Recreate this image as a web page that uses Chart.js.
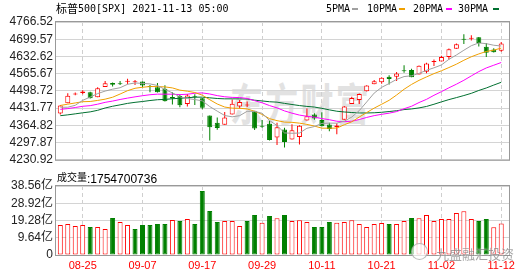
<!DOCTYPE html>
<html lang="zh-CN">
<head>
<meta charset="UTF-8">
<title>标普500[SPX]</title>
<script src="https://cdn.jsdelivr.net/npm/chart.js@4.4.0/dist/chart.umd.min.js"></script>
<style>
  body { margin: 0; background: #fff; }
  #wrap { position: relative; width: 530px; height: 276px; overflow: hidden; }
  #wrap canvas { position: absolute; left: 0; }
  #priceChart { top: 0; }
  #volChart { top: 170px; }
  .lbl { position: absolute; white-space: nowrap; line-height: 1; color: #000; }
  .mono { font-family: "DejaVu Sans Mono", monospace; font-size: 10px; }
  .cjk { font-family: "Noto Sans CJK SC", sans-serif; font-size: 11px; }
  .swatch { position: absolute; top: 8px; width: 6px; height: 2px; }
  #wm1 {
    position: absolute; left: 230px; top: 70px; line-height: 1;
    font: bold 44px "Noto Sans CJK SC", sans-serif; color: #e2e2e2;
    letter-spacing: 3px; transform: scaleX(0.75); transform-origin: 0 0;
  }
  #wm2 {
    position: absolute; left: 436px; top: 244px; line-height: 1;
    font: 13px "Noto Sans CJK SC", sans-serif; color: rgba(90, 90, 90, 0.55);
    text-shadow: 0 0 2px #fff;
  }
  #wm2logo {
    position: absolute; left: 411px; top: 243px; width: 15px; height: 15px;
    border: 1px solid rgba(120, 120, 120, 0.5); border-radius: 50%;
    background: rgba(255, 255, 255, 0.7);
  }
</style>
</head>
<body>
<div id="wrap">
  <div id="wm1">东方财富</div>
  <canvas id="priceChart" width="530" height="170"></canvas>
  <canvas id="volChart" width="530" height="106"></canvas>

  <!-- title + MA legend -->
  <div class="lbl cjk" style="left:56px;top:3px">标普</div>
  <div class="lbl mono" style="left:78px;top:4px">500[SPX] 2021-11-13 05:00</div>
  <div class="lbl mono" style="left:326px;top:4px">5PMA</div>
  <div class="swatch" style="left:352px;background:#a0a0a0"></div>
  <div class="lbl mono" style="left:367px;top:4px">10PMA</div>
  <div class="swatch" style="left:399px;background:#f0a000"></div>
  <div class="lbl mono" style="left:413px;top:4px">20PMA</div>
  <div class="swatch" style="left:446px;background:#ff00ff"></div>
  <div class="lbl mono" style="left:458px;top:4px">30PMA</div>
  <div class="swatch" style="left:493px;background:#007030"></div>

  <!-- volume title -->
  <div class="lbl cjk" style="left:57px;top:172px;font-size:10px">成交量</div>
  <div class="lbl" style="left:87px;top:171.5px;font:12px 'Liberation Sans', sans-serif">:1754700736</div>

  <div id="wm2logo"></div>
  <div id="wm2">九盛融汇投资</div>
</div>

<script>
  // S&P 500 daily candles, 2021-08-20 .. 2021-11-12
  const dates = ['08-20', '08-23', '08-24', '08-25', '08-26', '08-27', '08-30', '08-31', '09-01', '09-02',
    '09-03', '09-07', '09-08', '09-09', '09-10', '09-13', '09-14', '09-15', '09-16', '09-17',
    '09-20', '09-21', '09-22', '09-23', '09-24', '09-27', '09-28', '09-29', '09-30', '10-01',
    '10-04', '10-05', '10-06', '10-07', '10-08', '10-11', '10-12', '10-13', '10-14', '10-15',
    '10-18', '10-19', '10-20', '10-21', '10-22', '10-25', '10-26', '10-27', '10-28', '10-29',
    '11-01', '11-02', '11-03', '11-04', '11-05', '11-08', '11-09', '11-10', '11-11', '11-12'];

  const open = [4410.56, 4450.29, 4484.40, 4490.45, 4493.75, 4474.10, 4513.76, 4529.75, 4528.80, 4534.48,
    4532.42, 4535.38, 4518.09, 4513.02, 4506.92, 4474.81, 4479.33, 4447.49, 4477.09, 4469.74,
    4402.95, 4374.45, 4367.43, 4406.75, 4438.04, 4442.12, 4419.54, 4362.41, 4370.67, 4317.16,
    4348.84, 4309.87, 4319.57, 4383.73, 4406.51, 4385.44, 4368.31, 4358.01, 4386.75, 4447.69,
    4463.72, 4497.34, 4524.42, 4532.24, 4553.69, 4553.69, 4578.69, 4580.22, 4562.84, 4572.87,
    4610.62, 4613.34, 4630.65, 4662.93, 4699.26, 4701.48, 4707.25, 4670.26, 4659.39, 4655.24];
  const high = [4444.35, 4489.88, 4492.81, 4501.71, 4495.90, 4513.33, 4537.36, 4531.39, 4537.11, 4545.85,
    4541.45, 4535.38, 4521.79, 4529.90, 4520.47, 4492.99, 4485.68, 4486.87, 4485.87, 4471.52,
    4402.95, 4394.87, 4416.75, 4465.40, 4463.12, 4457.30, 4419.54, 4385.57, 4382.55, 4375.19,
    4355.51, 4369.23, 4365.57, 4429.97, 4412.02, 4415.88, 4374.89, 4372.87, 4439.73, 4475.82,
    4488.75, 4520.40, 4540.87, 4551.44, 4559.67, 4572.62, 4598.53, 4584.57, 4597.55, 4608.08,
    4620.34, 4635.15, 4663.46, 4683.00, 4718.50, 4714.92, 4708.53, 4684.85, 4664.55, 4688.47];
  const low = [4406.80, 4450.29, 4482.28, 4485.66, 4468.99, 4474.10, 4513.76, 4515.80, 4522.02, 4524.66,
    4521.65, 4513.00, 4493.95, 4492.07, 4457.66, 4445.70, 4435.46, 4438.37, 4443.80, 4427.76,
    4305.91, 4347.96, 4367.43, 4406.75, 4430.27, 4436.19, 4346.33, 4355.08, 4306.24, 4288.52,
    4278.94, 4309.87, 4290.49, 4383.73, 4386.22, 4360.59, 4342.09, 4329.92, 4386.75, 4447.69,
    4447.47, 4496.41, 4524.40, 4526.89, 4524.00, 4537.36, 4569.17, 4551.66, 4562.84, 4567.59,
    4595.06, 4613.34, 4621.19, 4662.59, 4681.32, 4694.39, 4670.87, 4630.86, 4648.31, 4650.42];
  const close = [4441.67, 4479.53, 4486.23, 4496.19, 4470.00, 4509.37, 4528.79, 4522.68, 4524.09, 4536.95,
    4535.43, 4520.03, 4514.07, 4493.28, 4458.58, 4468.73, 4443.05, 4480.70, 4473.75, 4432.99,
    4357.73, 4354.19, 4395.64, 4448.98, 4455.48, 4443.11, 4352.63, 4359.46, 4307.54, 4357.04,
    4300.46, 4345.72, 4363.55, 4399.76, 4391.34, 4361.19, 4350.65, 4363.80, 4438.26, 4471.37,
    4486.46, 4519.63, 4536.19, 4549.78, 4544.90, 4566.48, 4574.79, 4551.68, 4596.42, 4605.38,
    4613.67, 4630.65, 4660.57, 4680.06, 4697.53, 4701.70, 4685.25, 4646.71, 4649.27, 4682.85];
  const closeBefore = 4405.80; // 08-19

  const ma5 = [4435.2, 4435.2, 4442.8, 4462.0, 4474.8, 4488.2, 4498.0, 4505.4, 4511.0, 4524.4,
    4529.6, 4527.8, 4526.0, 4519.8, 4504.2, 4491.0, 4475.6, 4469.0, 4465.2, 4460.0,
    4437.8, 4420.0, 4403.0, 4398.0, 4402.4, 4419.4, 4419.2, 4411.8, 4383.6, 4364.0,
    4335.4, 4334.0, 4335.0, 4353.4, 4360.2, 4372.4, 4373.4, 4373.4, 4381.0, 4397.0,
    4422.0, 4455.8, 4490.2, 4512.6, 4527.4, 4543.4, 4554.4, 4557.6, 4566.8, 4578.8,
    4588.4, 4599.6, 4621.4, 4638.2, 4656.8, 4674.4, 4685.2, 4682.4, 4676.2, 4673.2];
  const ma10 = [4442.2, 4447.0, 4451.9, 4456.7, 4457.6, 4461.7, 4466.6, 4474.1, 4486.5, 4499.6,
    4508.9, 4512.9, 4515.7, 4515.4, 4514.3, 4510.3, 4501.7, 4497.5, 4492.5, 4482.1,
    4464.4, 4447.8, 4436.0, 4431.6, 4431.2, 4428.6, 4419.6, 4407.4, 4390.8, 4383.2,
    4377.4, 4376.6, 4373.4, 4368.5, 4362.1, 4353.9, 4353.7, 4354.2, 4367.2, 4378.6,
    4397.2, 4414.6, 4431.8, 4446.8, 4462.2, 4482.7, 4505.1, 4523.9, 4539.7, 4553.1,
    4565.9, 4577.0, 4589.5, 4602.5, 4617.8, 4631.4, 4642.4, 4651.9, 4657.2, 4665.0];
  const ma20 = [4427.0, 4429.9, 4434.1, 4438.9, 4441.4, 4447.1, 4454.2, 4459.2, 4465.3, 4470.7,
    4475.6, 4480.0, 4483.8, 4486.1, 4486.0, 4486.0, 4484.2, 4485.8, 4489.5, 4490.9,
    4486.7, 4480.4, 4475.9, 4473.5, 4472.8, 4469.5, 4460.7, 4452.5, 4441.7, 4432.7,
    4420.9, 4412.2, 4404.7, 4400.1, 4396.7, 4391.3, 4386.7, 4380.8, 4379.0, 4380.9,
    4387.3, 4395.6, 4402.6, 4407.7, 4412.2, 4418.3, 4429.4, 4439.1, 4453.5, 4465.9,
    4481.6, 4495.8, 4510.7, 4524.7, 4540.0, 4557.1, 4573.8, 4587.9, 4598.5, 4609.1];
  const ma30 = [4402.4, 4405.6, 4409.5, 4413.6, 4417.2, 4423.3, 4432.3, 4439.0, 4444.5, 4450.2,
    4454.3, 4457.5, 4461.3, 4464.4, 4465.7, 4468.2, 4470.0, 4472.0, 4474.3, 4474.5,
    4471.8, 4469.2, 4467.9, 4467.9, 4467.7, 4466.9, 4462.6, 4459.7, 4456.6, 4455.0,
    4450.2, 4445.8, 4441.7, 4438.5, 4435.9, 4430.9, 4425.0, 4419.7, 4416.8, 4414.6,
    4413.0, 4413.0, 4413.7, 4415.6, 4418.5, 4421.7, 4426.1, 4428.5, 4432.6, 4438.3,
    4446.8, 4456.1, 4464.9, 4472.6, 4480.7, 4489.3, 4500.4, 4510.0, 4521.4, 4532.2];

  // volume in 亿 (1e8) shares
  const volume = [16.8, 17.3, 16.2, 16.8, 15.6, 15.6, 14.5, 20.7, 18.4, 16.8,
    14.5, 16.8, 16.8, 17.3, 17.3, 19.6, 19.0, 20.1, 17.3, 35.8,
    24.6, 18.4, 19.0, 19.0, 16.2, 19.0, 22.4, 18.0, 21.8, 20.5,
    22.4, 19.0, 19.4, 18.4, 15.6, 15.6, 18.4, 18.0, 18.4, 19.4,
    17.3, 15.6, 17.3, 17.9, 17.3, 17.3, 19.0, 20.7, 20.5, 22.4,
    19.0, 20.1, 20.1, 23.5, 24.4, 20.1, 19.0, 20.1, 15.5, 17.55];

  const priceTicks = [4230.92, 4297.87, 4364.82, 4431.77, 4498.72, 4565.67, 4632.62, 4699.57, 4766.52];
  const volTicks = [0, 9.64, 19.28, 28.92, 38.56];
  const volTickLabels = ['0', '9.64亿', '19.28亿', '28.92亿', '38.56亿'];
  const dateTickIdx = [3, 11, 19, 27, 35, 43, 51, 59];

  const RED = '#ff0000';
  const GREEN = '#008000';
  const X_MIN = -0.575, X_MAX = 60.04;

  Chart.defaults.font.family = "'Liberation Sans', 'Noto Sans CJK SC', sans-serif";
  Chart.defaults.animation = false;

  // grey box round the plot area
  const framePlugin = {
    id: 'frame',
    afterDraw(chart) {
      const a = chart.chartArea, ctx = chart.ctx;
      ctx.save();
      ctx.strokeStyle = '#999';
      ctx.lineWidth = 1;
      ctx.strokeRect(a.left - 0.5, a.top - 0.5, a.right - a.left + 1, a.bottom - a.top + 1);
      ctx.restore();
    }
  };

  function xScale(showLabels) {
    return {
      type: 'linear',
      min: X_MIN,
      max: X_MAX,
      offset: false,
      afterBuildTicks: s => { s.ticks = dateTickIdx.map(v => ({ value: v })); },
      afterFit: s => { s.height = showLabels ? 21 : 0; },
      grid: { color: '#cfcfcf', drawTicks: false, offset: false },
      border: { display: false, dash: [4, 3] },
      ticks: {
        display: showLabels, autoSkip: false, maxRotation: 0, padding: 4,
        color: RED, font: { size: 11 },
        callback: v => dates[v]
      }
    };
  }

  function yScale(tickValues, fmt) {
    return {
      min: tickValues[0],
      max: tickValues[tickValues.length - 1],
      afterBuildTicks: s => { s.ticks = tickValues.map(v => ({ value: v })); },
      afterFit: s => { s.width = 56; },
      grid: { color: '#d4d4d4', drawTicks: false },
      border: { display: false },
      ticks: { autoSkip: false, padding: 3, color: '#222', font: { size: 12 }, callback: fmt }
    };
  }

  const candleUp = open.map((o, i) => close[i] >= o);
  const volUp = close.map((c, i) => c >= (i === 0 ? closeBefore : close[i - 1]));

  const barCommon = {
    type: 'bar',
    grouped: false,
    borderSkipped: false,
    inflateAmount: 0
  };

  function maLine(label, values, color) {
    return {
      type: 'line',
      label: label,
      data: values.map((v, i) => ({ x: i, y: v })),
      borderColor: color,
      borderWidth: 1,
      pointRadius: 0,
      tension: 0,
      order: 0
    };
  }

  new Chart(document.getElementById('priceChart'), {
    type: 'bar',
    data: {
      datasets: [
        maLine('5PMA', ma5, '#a0a0a0'),
        maLine('10PMA', ma10, '#f0a000'),
        maLine('20PMA', ma20, '#ff00ff'),
        maLine('30PMA', ma30, '#007030'),
        Object.assign({}, barCommon, {
          label: 'body',
          data: dates.map((d, i) => ({ x: i, y: [open[i], close[i]] })),
          barThickness: 5,
          minBarLength: 1,
          borderWidth: 1,
          backgroundColor: candleUp.map(u => u ? '#ffffff' : GREEN),
          borderColor: candleUp.map(u => u ? RED : GREEN),
          order: 1
        }),
        Object.assign({}, barCommon, {
          label: 'wick',
          data: dates.map((d, i) => ({ x: i, y: [low[i], high[i]] })),
          barThickness: 1,
          borderWidth: 0,
          backgroundColor: candleUp.map(u => u ? RED : GREEN),
          order: 2
        })
      ]
    },
    options: {
      responsive: false,
      devicePixelRatio: 1,
      layout: { padding: { left: 0, top: 22, right: 21, bottom: 5 } },
      plugins: { legend: { display: false }, tooltip: { enabled: false } },
      scales: {
        x: xScale(false),
        y: yScale(priceTicks, v => v.toFixed(2))
      }
    },
    plugins: [framePlugin]
  });

  new Chart(document.getElementById('volChart'), {
    type: 'bar',
    data: {
      datasets: [
        Object.assign({}, barCommon, {
          label: '成交量',
          data: volume.map((v, i) => ({ x: i, y: v })),
          barThickness: 5,
          borderWidth: 1,
          backgroundColor: volUp.map(u => u ? '#ffffff' : GREEN),
          borderColor: volUp.map(u => u ? RED : GREEN)
        })
      ]
    },
    options: {
      responsive: false,
      devicePixelRatio: 1,
      layout: { padding: { left: 0, top: 16, right: 21, bottom: 0 } },
      plugins: { legend: { display: false }, tooltip: { enabled: false } },
      scales: {
        x: xScale(true),
        y: yScale(volTicks, v => volTickLabels[volTicks.indexOf(v)])
      }
    },
    plugins: [framePlugin]
  });
</script>
</body>
</html>
